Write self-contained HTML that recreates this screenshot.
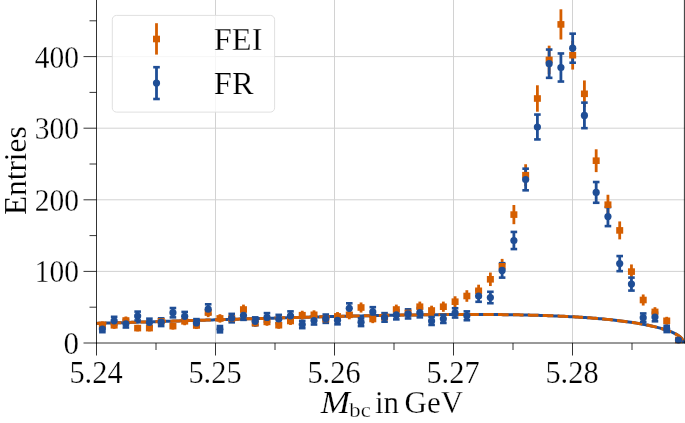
<!DOCTYPE html>
<html><head><meta charset="utf-8"><style>
html,body{margin:0;padding:0;background:#fff;}
body{width:685px;height:423px;overflow:hidden;font-family:"Liberation Serif",serif;}
svg{display:block;will-change:transform;}
</style></head><body>
<svg width="685" height="423" viewBox="0 0 685 423">
<rect width="685" height="423" fill="#fff"/>
<g stroke="#d2d2d2" stroke-width="1"><line x1="215.50" y1="0" x2="215.50" y2="343.0" /><line x1="334.50" y1="0" x2="334.50" y2="343.0" /><line x1="453.50" y1="0" x2="453.50" y2="343.0" /><line x1="572.50" y1="0" x2="572.50" y2="343.0" /><line x1="96.5" y1="271.40" x2="685" y2="271.40" /><line x1="96.5" y1="199.80" x2="685" y2="199.80" /><line x1="96.5" y1="128.20" x2="685" y2="128.20" /><line x1="96.5" y1="56.60" x2="685" y2="56.60" /></g>
<polyline points="96.50,323.38 98.46,323.32 100.43,323.26 102.39,323.21 104.36,323.15 106.32,323.09 108.29,323.03 110.25,322.97 112.21,322.92 114.18,322.86 116.14,322.80 118.11,322.74 120.07,322.68 122.03,322.63 124.00,322.57 125.96,322.51 127.93,322.45 129.89,322.39 131.86,322.33 133.82,322.27 135.78,322.22 137.75,322.16 139.71,322.10 141.68,322.04 143.64,321.98 145.61,321.92 147.57,321.86 149.53,321.80 151.50,321.74 153.46,321.69 155.43,321.63 157.39,321.57 159.35,321.51 161.32,321.45 163.28,321.39 165.25,321.33 167.21,321.27 169.18,321.21 171.14,321.16 173.10,321.10 175.07,321.04 177.03,320.98 179.00,320.92 180.96,320.86 182.93,320.80 184.89,320.74 186.85,320.68 188.82,320.62 190.78,320.57 192.75,320.51 194.71,320.45 196.67,320.39 198.64,320.33 200.60,320.27 202.57,320.21 204.53,320.15 206.50,320.09 208.46,320.04 210.42,319.98 212.39,319.92 214.35,319.86 216.32,319.80 218.28,319.74 220.25,319.68 222.21,319.63 224.17,319.57 226.14,319.51 228.10,319.45 230.07,319.39 232.03,319.34 233.99,319.28 235.96,319.22 237.92,319.16 239.89,319.10 241.85,319.05 243.82,318.99 245.78,318.93 247.74,318.87 249.71,318.82 251.67,318.76 253.64,318.70 255.60,318.65 257.57,318.59 259.53,318.53 261.49,318.48 263.46,318.42 265.42,318.36 267.39,318.31 269.35,318.25 271.32,318.20 273.28,318.14 275.24,318.09 277.21,318.03 279.17,317.98 281.14,317.92 283.10,317.87 285.06,317.81 287.03,317.76 288.99,317.70 290.96,317.65 292.92,317.59 294.89,317.54 296.85,317.49 298.81,317.43 300.78,317.38 302.74,317.33 304.71,317.28 306.67,317.22 308.64,317.17 310.60,317.12 312.56,317.07 314.53,317.02 316.49,316.97 318.46,316.92 320.42,316.87 322.38,316.82 324.35,316.77 326.31,316.72 328.28,316.67 330.24,316.62 332.21,316.57 334.17,316.52 336.13,316.47 338.10,316.42 340.06,316.38 342.03,316.33 343.99,316.28 345.96,316.24 347.92,316.19 349.88,316.15 351.85,316.10 353.81,316.06 355.78,316.01 357.74,315.97 359.70,315.92 361.67,315.88 363.63,315.84 365.60,315.80 367.56,315.75 369.53,315.71 371.49,315.67 373.45,315.63 375.42,315.59 377.38,315.55 379.35,315.51 381.31,315.47 383.28,315.44 385.24,315.40 387.20,315.36 389.17,315.33 391.13,315.29 393.10,315.26 395.06,315.22 397.02,315.19 398.99,315.15 400.95,315.12 402.92,315.09 404.88,315.06 406.85,315.03 408.81,315.00 410.77,314.97 412.74,314.94 414.70,314.91 416.67,314.88 418.63,314.86 420.60,314.83 422.56,314.80 424.52,314.78 426.49,314.76 428.45,314.73 430.42,314.71 432.38,314.69 434.34,314.67 436.31,314.65 438.27,314.63 440.24,314.62 442.20,314.60 444.17,314.58 446.13,314.57 448.09,314.55 450.06,314.54 452.02,314.53 453.99,314.52 455.95,314.51 457.92,314.50 459.88,314.49 461.84,314.49 463.81,314.48 465.77,314.48 467.74,314.47 469.70,314.47 471.66,314.47 473.63,314.47 475.59,314.47 477.56,314.47 479.52,314.48 481.49,314.48 483.45,314.49 485.41,314.50 487.38,314.51 489.34,314.52 491.31,314.53 493.27,314.55 495.24,314.56 497.20,314.58 499.16,314.60 501.13,314.62 503.09,314.64 505.06,314.66 507.02,314.69 508.98,314.71 510.95,314.74 512.91,314.77 514.88,314.80 516.84,314.84 518.81,314.87 520.77,314.91 522.73,314.95 524.70,314.99 526.66,315.04 528.63,315.08 530.59,315.13 532.56,315.18 534.52,315.23 536.48,315.29 538.45,315.35 540.41,315.41 542.38,315.47 544.34,315.53 546.31,315.60 548.27,315.67 550.23,315.74 552.20,315.82 554.16,315.90 556.13,315.98 558.09,316.06 560.05,316.15 562.02,316.24 563.98,316.33 565.95,316.43 567.91,316.53 569.88,316.63 571.84,316.74 573.80,316.85 575.77,316.96 577.73,317.08 579.70,317.20 581.66,317.32 583.63,317.45 585.59,317.59 587.55,317.73 589.52,317.87 591.48,318.02 593.45,318.17 595.41,318.33 597.37,318.49 599.34,318.66 601.30,318.83 603.27,319.01 605.23,319.19 607.20,319.38 609.16,319.58 611.12,319.78 613.09,319.99 615.05,320.21 617.02,320.43 618.98,320.66 620.95,320.90 622.91,321.15 624.87,321.40 626.84,321.66 628.80,321.94 630.77,322.22 632.73,322.52 634.69,322.82 636.66,323.14 638.62,323.46 640.59,323.80 642.55,324.16 644.52,324.53 646.48,324.91 648.44,325.31 650.41,325.73 652.37,326.17 654.34,326.63 656.30,327.11 658.27,327.62 660.23,328.15 662.19,328.72 664.16,329.32 666.12,329.96 668.09,330.65 670.05,331.40 672.01,332.21 673.98,333.11 675.94,334.11 677.91,335.27 679.87,336.67 681.84,338.52 683.80,343.00" fill="none" stroke="#1f4e96" stroke-width="3"/>
<polyline points="96.50,323.38 98.46,323.32 100.43,323.26 102.39,323.21 104.36,323.15 106.32,323.09 108.29,323.03 110.25,322.97 112.21,322.92 114.18,322.86 116.14,322.80 118.11,322.74 120.07,322.68 122.03,322.63 124.00,322.57 125.96,322.51 127.93,322.45 129.89,322.39 131.86,322.33 133.82,322.27 135.78,322.22 137.75,322.16 139.71,322.10 141.68,322.04 143.64,321.98 145.61,321.92 147.57,321.86 149.53,321.80 151.50,321.74 153.46,321.69 155.43,321.63 157.39,321.57 159.35,321.51 161.32,321.45 163.28,321.39 165.25,321.33 167.21,321.27 169.18,321.21 171.14,321.16 173.10,321.10 175.07,321.04 177.03,320.98 179.00,320.92 180.96,320.86 182.93,320.80 184.89,320.74 186.85,320.68 188.82,320.62 190.78,320.57 192.75,320.51 194.71,320.45 196.67,320.39 198.64,320.33 200.60,320.27 202.57,320.21 204.53,320.15 206.50,320.09 208.46,320.04 210.42,319.98 212.39,319.92 214.35,319.86 216.32,319.80 218.28,319.74 220.25,319.68 222.21,319.63 224.17,319.57 226.14,319.51 228.10,319.45 230.07,319.39 232.03,319.34 233.99,319.28 235.96,319.22 237.92,319.16 239.89,319.10 241.85,319.05 243.82,318.99 245.78,318.93 247.74,318.87 249.71,318.82 251.67,318.76 253.64,318.70 255.60,318.65 257.57,318.59 259.53,318.53 261.49,318.48 263.46,318.42 265.42,318.36 267.39,318.31 269.35,318.25 271.32,318.20 273.28,318.14 275.24,318.09 277.21,318.03 279.17,317.98 281.14,317.92 283.10,317.87 285.06,317.81 287.03,317.76 288.99,317.70 290.96,317.65 292.92,317.59 294.89,317.54 296.85,317.49 298.81,317.43 300.78,317.38 302.74,317.33 304.71,317.28 306.67,317.22 308.64,317.17 310.60,317.12 312.56,317.07 314.53,317.02 316.49,316.97 318.46,316.92 320.42,316.87 322.38,316.82 324.35,316.77 326.31,316.72 328.28,316.67 330.24,316.62 332.21,316.57 334.17,316.52 336.13,316.47 338.10,316.42 340.06,316.38 342.03,316.33 343.99,316.28 345.96,316.24 347.92,316.19 349.88,316.15 351.85,316.10 353.81,316.06 355.78,316.01 357.74,315.97 359.70,315.92 361.67,315.88 363.63,315.84 365.60,315.80 367.56,315.75 369.53,315.71 371.49,315.67 373.45,315.63 375.42,315.59 377.38,315.55 379.35,315.51 381.31,315.47 383.28,315.44 385.24,315.40 387.20,315.36 389.17,315.33 391.13,315.29 393.10,315.26 395.06,315.22 397.02,315.19 398.99,315.15 400.95,315.12 402.92,315.09 404.88,315.06 406.85,315.03 408.81,315.00 410.77,314.97 412.74,314.94 414.70,314.91 416.67,314.88 418.63,314.86 420.60,314.83 422.56,314.80 424.52,314.78 426.49,314.76 428.45,314.73 430.42,314.71 432.38,314.69 434.34,314.67 436.31,314.65 438.27,314.63 440.24,314.62 442.20,314.60 444.17,314.58 446.13,314.57 448.09,314.55 450.06,314.54 452.02,314.53 453.99,314.52 455.95,314.51 457.92,314.50 459.88,314.49 461.84,314.49 463.81,314.48 465.77,314.48 467.74,314.47 469.70,314.47 471.66,314.47 473.63,314.47 475.59,314.47 477.56,314.47 479.52,314.48 481.49,314.48 483.45,314.49 485.41,314.50 487.38,314.51 489.34,314.52 491.31,314.53 493.27,314.55 495.24,314.56 497.20,314.58 499.16,314.60 501.13,314.62 503.09,314.64 505.06,314.66 507.02,314.69 508.98,314.71 510.95,314.74 512.91,314.77 514.88,314.80 516.84,314.84 518.81,314.87 520.77,314.91 522.73,314.95 524.70,314.99 526.66,315.04 528.63,315.08 530.59,315.13 532.56,315.18 534.52,315.23 536.48,315.29 538.45,315.35 540.41,315.41 542.38,315.47 544.34,315.53 546.31,315.60 548.27,315.67 550.23,315.74 552.20,315.82 554.16,315.90 556.13,315.98 558.09,316.06 560.05,316.15 562.02,316.24 563.98,316.33 565.95,316.43 567.91,316.53 569.88,316.63 571.84,316.74 573.80,316.85 575.77,316.96 577.73,317.08 579.70,317.20 581.66,317.32 583.63,317.45 585.59,317.59 587.55,317.73 589.52,317.87 591.48,318.02 593.45,318.17 595.41,318.33 597.37,318.49 599.34,318.66 601.30,318.83 603.27,319.01 605.23,319.19 607.20,319.38 609.16,319.58 611.12,319.78 613.09,319.99 615.05,320.21 617.02,320.43 618.98,320.66 620.95,320.90 622.91,321.15 624.87,321.40 626.84,321.66 628.80,321.94 630.77,322.22 632.73,322.52 634.69,322.82 636.66,323.14 638.62,323.46 640.59,323.80 642.55,324.16 644.52,324.53 646.48,324.91 648.44,325.31 650.41,325.73 652.37,326.17 654.34,326.63 656.30,327.11 658.27,327.62 660.23,328.15 662.19,328.72 664.16,329.32 666.12,329.96 668.09,330.65 670.05,331.40 672.01,332.21 673.98,333.11 675.94,334.11 677.91,335.27 679.87,336.67 681.84,338.52 683.80,343.00" fill="none" stroke="#d55e00" stroke-width="3" stroke-dasharray="10.6 4.3" stroke-dashoffset="0.65"/>
<g><line x1="102.38" y1="321.41" x2="102.38" y2="328.59" stroke="#d55e00" stroke-width="2.8"/><line x1="114.14" y1="321.74" x2="114.14" y2="328.86" stroke="#d55e00" stroke-width="2.8"/><line x1="125.89" y1="316.49" x2="125.89" y2="324.51" stroke="#d55e00" stroke-width="2.8"/><line x1="137.65" y1="324.83" x2="137.65" y2="331.37" stroke="#d55e00" stroke-width="2.8"/><line x1="149.41" y1="324.83" x2="149.41" y2="331.37" stroke="#d55e00" stroke-width="2.8"/><line x1="161.16" y1="317.36" x2="161.16" y2="325.24" stroke="#d55e00" stroke-width="2.8"/><line x1="172.92" y1="322.62" x2="172.92" y2="329.58" stroke="#d55e00" stroke-width="2.8"/><line x1="184.68" y1="317.36" x2="184.68" y2="325.24" stroke="#d55e00" stroke-width="2.8"/><line x1="196.44" y1="321.96" x2="196.44" y2="329.04" stroke="#d55e00" stroke-width="2.8"/><line x1="208.19" y1="307.83" x2="208.19" y2="317.17" stroke="#d55e00" stroke-width="2.8"/><line x1="219.95" y1="314.20" x2="219.95" y2="322.60" stroke="#d55e00" stroke-width="2.8"/><line x1="231.71" y1="314.20" x2="231.71" y2="322.60" stroke="#d55e00" stroke-width="2.8"/><line x1="243.47" y1="304.60" x2="243.47" y2="314.40" stroke="#d55e00" stroke-width="2.8"/><line x1="255.22" y1="319.33" x2="255.22" y2="326.87" stroke="#d55e00" stroke-width="2.8"/><line x1="266.98" y1="318.01" x2="266.98" y2="325.79" stroke="#d55e00" stroke-width="2.8"/><line x1="278.74" y1="321.63" x2="278.74" y2="328.77" stroke="#d55e00" stroke-width="2.8"/><line x1="290.49" y1="317.03" x2="290.49" y2="324.97" stroke="#d55e00" stroke-width="2.8"/><line x1="302.25" y1="310.74" x2="302.25" y2="319.66" stroke="#d55e00" stroke-width="2.8"/><line x1="314.01" y1="310.31" x2="314.01" y2="319.29" stroke="#d55e00" stroke-width="2.8"/><line x1="325.77" y1="314.85" x2="325.77" y2="323.15" stroke="#d55e00" stroke-width="2.8"/><line x1="337.52" y1="312.04" x2="337.52" y2="320.76" stroke="#d55e00" stroke-width="2.8"/><line x1="349.28" y1="310.31" x2="349.28" y2="319.29" stroke="#d55e00" stroke-width="2.8"/><line x1="361.04" y1="302.46" x2="361.04" y2="312.54" stroke="#d55e00" stroke-width="2.8"/><line x1="372.79" y1="314.85" x2="372.79" y2="323.15" stroke="#d55e00" stroke-width="2.8"/><line x1="384.55" y1="312.90" x2="384.55" y2="321.50" stroke="#d55e00" stroke-width="2.8"/><line x1="396.31" y1="304.60" x2="396.31" y2="314.40" stroke="#d55e00" stroke-width="2.8"/><line x1="408.07" y1="308.37" x2="408.07" y2="317.63" stroke="#d55e00" stroke-width="2.8"/><line x1="419.82" y1="301.60" x2="419.82" y2="311.80" stroke="#d55e00" stroke-width="2.8"/><line x1="431.58" y1="305.68" x2="431.58" y2="315.32" stroke="#d55e00" stroke-width="2.8"/><line x1="443.34" y1="301.60" x2="443.34" y2="311.80" stroke="#d55e00" stroke-width="2.8"/><line x1="455.09" y1="296.26" x2="455.09" y2="307.14" stroke="#d55e00" stroke-width="2.8"/><line x1="466.85" y1="290.20" x2="466.85" y2="301.80" stroke="#d55e00" stroke-width="2.8"/><line x1="478.61" y1="284.69" x2="478.61" y2="296.91" stroke="#d55e00" stroke-width="2.8"/><line x1="490.37" y1="272.55" x2="490.37" y2="286.05" stroke="#d55e00" stroke-width="2.8"/><line x1="502.12" y1="258.89" x2="502.12" y2="273.71" stroke="#d55e00" stroke-width="2.8"/><line x1="513.88" y1="205.01" x2="513.88" y2="224.19" stroke="#d55e00" stroke-width="2.8"/><line x1="525.64" y1="164.24" x2="525.64" y2="186.16" stroke="#d55e00" stroke-width="2.8"/><line x1="537.39" y1="85.27" x2="537.39" y2="111.73" stroke="#d55e00" stroke-width="2.8"/><line x1="549.15" y1="45.66" x2="549.15" y2="74.14" stroke="#d55e00" stroke-width="2.8"/><line x1="560.91" y1="9.30" x2="560.91" y2="39.50" stroke="#d55e00" stroke-width="2.8"/><line x1="572.67" y1="40.85" x2="572.67" y2="69.55" stroke="#d55e00" stroke-width="2.8"/><line x1="584.42" y1="80.44" x2="584.42" y2="107.16" stroke="#d55e00" stroke-width="2.8"/><line x1="596.18" y1="149.28" x2="596.18" y2="172.12" stroke="#d55e00" stroke-width="2.8"/><line x1="607.94" y1="194.75" x2="607.94" y2="214.65" stroke="#d55e00" stroke-width="2.8"/><line x1="619.70" y1="221.42" x2="619.70" y2="239.38" stroke="#d55e00" stroke-width="2.8"/><line x1="631.45" y1="264.45" x2="631.45" y2="278.75" stroke="#d55e00" stroke-width="2.8"/><line x1="643.21" y1="294.45" x2="643.21" y2="305.55" stroke="#d55e00" stroke-width="2.8"/><line x1="654.97" y1="307.18" x2="654.97" y2="316.62" stroke="#d55e00" stroke-width="2.8"/><line x1="666.72" y1="316.81" x2="666.72" y2="324.79" stroke="#d55e00" stroke-width="2.8"/><line x1="678.48" y1="338.53" x2="678.48" y2="341.47" stroke="#d55e00" stroke-width="2.8"/></g>
<g><line x1="102.38" y1="325.83" x2="102.38" y2="332.17" stroke="#1f4e96" stroke-width="2.8"/><line x1="99.08" y1="325.83" x2="105.68" y2="325.83" stroke="#1f4e96" stroke-width="2.6"/><line x1="99.08" y1="332.17" x2="105.68" y2="332.17" stroke="#1f4e96" stroke-width="2.6"/><line x1="114.14" y1="316.81" x2="114.14" y2="324.79" stroke="#1f4e96" stroke-width="2.8"/><line x1="110.84" y1="316.81" x2="117.44" y2="316.81" stroke="#1f4e96" stroke-width="2.6"/><line x1="110.84" y1="324.79" x2="117.44" y2="324.79" stroke="#1f4e96" stroke-width="2.6"/><line x1="125.89" y1="320.09" x2="125.89" y2="327.51" stroke="#1f4e96" stroke-width="2.8"/><line x1="122.59" y1="320.09" x2="129.19" y2="320.09" stroke="#1f4e96" stroke-width="2.6"/><line x1="122.59" y1="327.51" x2="129.19" y2="327.51" stroke="#1f4e96" stroke-width="2.6"/><line x1="137.65" y1="311.60" x2="137.65" y2="320.40" stroke="#1f4e96" stroke-width="2.8"/><line x1="134.35" y1="311.60" x2="140.95" y2="311.60" stroke="#1f4e96" stroke-width="2.6"/><line x1="134.35" y1="320.40" x2="140.95" y2="320.40" stroke="#1f4e96" stroke-width="2.6"/><line x1="149.41" y1="318.67" x2="149.41" y2="326.33" stroke="#1f4e96" stroke-width="2.8"/><line x1="146.11" y1="318.67" x2="152.71" y2="318.67" stroke="#1f4e96" stroke-width="2.6"/><line x1="146.11" y1="326.33" x2="152.71" y2="326.33" stroke="#1f4e96" stroke-width="2.6"/><line x1="161.16" y1="318.34" x2="161.16" y2="326.06" stroke="#1f4e96" stroke-width="2.8"/><line x1="157.86" y1="318.34" x2="164.46" y2="318.34" stroke="#1f4e96" stroke-width="2.6"/><line x1="157.86" y1="326.06" x2="164.46" y2="326.06" stroke="#1f4e96" stroke-width="2.6"/><line x1="172.92" y1="308.04" x2="172.92" y2="317.36" stroke="#1f4e96" stroke-width="2.8"/><line x1="169.62" y1="308.04" x2="176.22" y2="308.04" stroke="#1f4e96" stroke-width="2.6"/><line x1="169.62" y1="317.36" x2="176.22" y2="317.36" stroke="#1f4e96" stroke-width="2.6"/><line x1="184.68" y1="311.93" x2="184.68" y2="320.67" stroke="#1f4e96" stroke-width="2.8"/><line x1="181.38" y1="311.93" x2="187.98" y2="311.93" stroke="#1f4e96" stroke-width="2.6"/><line x1="181.38" y1="320.67" x2="187.98" y2="320.67" stroke="#1f4e96" stroke-width="2.6"/><line x1="196.44" y1="319.11" x2="196.44" y2="326.69" stroke="#1f4e96" stroke-width="2.8"/><line x1="193.14" y1="319.11" x2="199.74" y2="319.11" stroke="#1f4e96" stroke-width="2.6"/><line x1="193.14" y1="326.69" x2="199.74" y2="326.69" stroke="#1f4e96" stroke-width="2.6"/><line x1="208.19" y1="304.28" x2="208.19" y2="314.12" stroke="#1f4e96" stroke-width="2.8"/><line x1="204.89" y1="304.28" x2="211.49" y2="304.28" stroke="#1f4e96" stroke-width="2.6"/><line x1="204.89" y1="314.12" x2="211.49" y2="314.12" stroke="#1f4e96" stroke-width="2.6"/><line x1="219.95" y1="326.06" x2="219.95" y2="332.34" stroke="#1f4e96" stroke-width="2.8"/><line x1="216.65" y1="326.06" x2="223.25" y2="326.06" stroke="#1f4e96" stroke-width="2.6"/><line x1="216.65" y1="332.34" x2="223.25" y2="332.34" stroke="#1f4e96" stroke-width="2.6"/><line x1="231.71" y1="313.88" x2="231.71" y2="322.32" stroke="#1f4e96" stroke-width="2.8"/><line x1="228.41" y1="313.88" x2="235.01" y2="313.88" stroke="#1f4e96" stroke-width="2.6"/><line x1="228.41" y1="322.32" x2="235.01" y2="322.32" stroke="#1f4e96" stroke-width="2.6"/><line x1="243.47" y1="310.95" x2="243.47" y2="319.85" stroke="#1f4e96" stroke-width="2.8"/><line x1="240.16" y1="310.95" x2="246.77" y2="310.95" stroke="#1f4e96" stroke-width="2.6"/><line x1="240.16" y1="319.85" x2="246.77" y2="319.85" stroke="#1f4e96" stroke-width="2.6"/><line x1="255.22" y1="317.36" x2="255.22" y2="325.24" stroke="#1f4e96" stroke-width="2.8"/><line x1="251.92" y1="317.36" x2="258.52" y2="317.36" stroke="#1f4e96" stroke-width="2.6"/><line x1="251.92" y1="325.24" x2="258.52" y2="325.24" stroke="#1f4e96" stroke-width="2.6"/><line x1="266.98" y1="313.12" x2="266.98" y2="321.68" stroke="#1f4e96" stroke-width="2.8"/><line x1="263.68" y1="313.12" x2="270.28" y2="313.12" stroke="#1f4e96" stroke-width="2.6"/><line x1="263.68" y1="321.68" x2="270.28" y2="321.68" stroke="#1f4e96" stroke-width="2.6"/><line x1="278.74" y1="314.85" x2="278.74" y2="323.15" stroke="#1f4e96" stroke-width="2.8"/><line x1="275.44" y1="314.85" x2="282.04" y2="314.85" stroke="#1f4e96" stroke-width="2.6"/><line x1="275.44" y1="323.15" x2="282.04" y2="323.15" stroke="#1f4e96" stroke-width="2.6"/><line x1="290.49" y1="311.39" x2="290.49" y2="320.21" stroke="#1f4e96" stroke-width="2.8"/><line x1="287.19" y1="311.39" x2="293.79" y2="311.39" stroke="#1f4e96" stroke-width="2.6"/><line x1="287.19" y1="320.21" x2="293.79" y2="320.21" stroke="#1f4e96" stroke-width="2.6"/><line x1="302.25" y1="320.86" x2="302.25" y2="328.14" stroke="#1f4e96" stroke-width="2.8"/><line x1="298.95" y1="320.86" x2="305.55" y2="320.86" stroke="#1f4e96" stroke-width="2.6"/><line x1="298.95" y1="328.14" x2="305.55" y2="328.14" stroke="#1f4e96" stroke-width="2.6"/><line x1="314.01" y1="316.49" x2="314.01" y2="324.51" stroke="#1f4e96" stroke-width="2.8"/><line x1="310.71" y1="316.49" x2="317.31" y2="316.49" stroke="#1f4e96" stroke-width="2.6"/><line x1="310.71" y1="324.51" x2="317.31" y2="324.51" stroke="#1f4e96" stroke-width="2.6"/><line x1="325.77" y1="314.53" x2="325.77" y2="322.87" stroke="#1f4e96" stroke-width="2.8"/><line x1="322.47" y1="314.53" x2="329.07" y2="314.53" stroke="#1f4e96" stroke-width="2.6"/><line x1="322.47" y1="322.87" x2="329.07" y2="322.87" stroke="#1f4e96" stroke-width="2.6"/><line x1="337.52" y1="316.27" x2="337.52" y2="324.33" stroke="#1f4e96" stroke-width="2.8"/><line x1="334.22" y1="316.27" x2="340.82" y2="316.27" stroke="#1f4e96" stroke-width="2.6"/><line x1="334.22" y1="324.33" x2="340.82" y2="324.33" stroke="#1f4e96" stroke-width="2.6"/><line x1="349.28" y1="303.32" x2="349.28" y2="313.28" stroke="#1f4e96" stroke-width="2.8"/><line x1="345.98" y1="303.32" x2="352.58" y2="303.32" stroke="#1f4e96" stroke-width="2.6"/><line x1="345.98" y1="313.28" x2="352.58" y2="313.28" stroke="#1f4e96" stroke-width="2.6"/><line x1="361.04" y1="318.34" x2="361.04" y2="326.06" stroke="#1f4e96" stroke-width="2.8"/><line x1="357.74" y1="318.34" x2="364.34" y2="318.34" stroke="#1f4e96" stroke-width="2.6"/><line x1="357.74" y1="326.06" x2="364.34" y2="326.06" stroke="#1f4e96" stroke-width="2.6"/><line x1="372.79" y1="307.18" x2="372.79" y2="316.62" stroke="#1f4e96" stroke-width="2.8"/><line x1="369.49" y1="307.18" x2="376.09" y2="307.18" stroke="#1f4e96" stroke-width="2.6"/><line x1="369.49" y1="316.62" x2="376.09" y2="316.62" stroke="#1f4e96" stroke-width="2.6"/><line x1="384.55" y1="313.12" x2="384.55" y2="321.68" stroke="#1f4e96" stroke-width="2.8"/><line x1="381.25" y1="313.12" x2="387.85" y2="313.12" stroke="#1f4e96" stroke-width="2.6"/><line x1="381.25" y1="321.68" x2="387.85" y2="321.68" stroke="#1f4e96" stroke-width="2.6"/><line x1="396.31" y1="310.41" x2="396.31" y2="319.39" stroke="#1f4e96" stroke-width="2.8"/><line x1="393.01" y1="310.41" x2="399.61" y2="310.41" stroke="#1f4e96" stroke-width="2.6"/><line x1="393.01" y1="319.39" x2="399.61" y2="319.39" stroke="#1f4e96" stroke-width="2.6"/><line x1="408.07" y1="309.34" x2="408.07" y2="318.46" stroke="#1f4e96" stroke-width="2.8"/><line x1="404.77" y1="309.34" x2="411.37" y2="309.34" stroke="#1f4e96" stroke-width="2.6"/><line x1="404.77" y1="318.46" x2="411.37" y2="318.46" stroke="#1f4e96" stroke-width="2.6"/><line x1="419.82" y1="308.04" x2="419.82" y2="317.36" stroke="#1f4e96" stroke-width="2.8"/><line x1="416.52" y1="308.04" x2="423.12" y2="308.04" stroke="#1f4e96" stroke-width="2.6"/><line x1="416.52" y1="317.36" x2="423.12" y2="317.36" stroke="#1f4e96" stroke-width="2.6"/><line x1="431.58" y1="317.03" x2="431.58" y2="324.97" stroke="#1f4e96" stroke-width="2.8"/><line x1="428.28" y1="317.03" x2="434.88" y2="317.03" stroke="#1f4e96" stroke-width="2.6"/><line x1="428.28" y1="324.97" x2="434.88" y2="324.97" stroke="#1f4e96" stroke-width="2.6"/><line x1="443.34" y1="314.64" x2="443.34" y2="322.96" stroke="#1f4e96" stroke-width="2.8"/><line x1="440.04" y1="314.64" x2="446.64" y2="314.64" stroke="#1f4e96" stroke-width="2.6"/><line x1="440.04" y1="322.96" x2="446.64" y2="322.96" stroke="#1f4e96" stroke-width="2.6"/><line x1="455.09" y1="308.26" x2="455.09" y2="317.54" stroke="#1f4e96" stroke-width="2.8"/><line x1="451.79" y1="308.26" x2="458.39" y2="308.26" stroke="#1f4e96" stroke-width="2.6"/><line x1="451.79" y1="317.54" x2="458.39" y2="317.54" stroke="#1f4e96" stroke-width="2.6"/><line x1="466.85" y1="311.39" x2="466.85" y2="320.21" stroke="#1f4e96" stroke-width="2.8"/><line x1="463.55" y1="311.39" x2="470.15" y2="311.39" stroke="#1f4e96" stroke-width="2.6"/><line x1="463.55" y1="320.21" x2="470.15" y2="320.21" stroke="#1f4e96" stroke-width="2.6"/><line x1="478.61" y1="290.20" x2="478.61" y2="301.80" stroke="#1f4e96" stroke-width="2.8"/><line x1="475.31" y1="290.20" x2="481.91" y2="290.20" stroke="#1f4e96" stroke-width="2.6"/><line x1="475.31" y1="301.80" x2="481.91" y2="301.80" stroke="#1f4e96" stroke-width="2.6"/><line x1="490.37" y1="291.79" x2="490.37" y2="303.21" stroke="#1f4e96" stroke-width="2.8"/><line x1="487.07" y1="291.79" x2="493.67" y2="291.79" stroke="#1f4e96" stroke-width="2.6"/><line x1="487.07" y1="303.21" x2="493.67" y2="303.21" stroke="#1f4e96" stroke-width="2.6"/><line x1="502.12" y1="263.19" x2="502.12" y2="277.61" stroke="#1f4e96" stroke-width="2.8"/><line x1="498.82" y1="263.19" x2="505.42" y2="263.19" stroke="#1f4e96" stroke-width="2.6"/><line x1="498.82" y1="277.61" x2="505.42" y2="277.61" stroke="#1f4e96" stroke-width="2.6"/><line x1="513.88" y1="231.93" x2="513.88" y2="249.07" stroke="#1f4e96" stroke-width="2.8"/><line x1="510.58" y1="231.93" x2="517.18" y2="231.93" stroke="#1f4e96" stroke-width="2.6"/><line x1="510.58" y1="249.07" x2="517.18" y2="249.07" stroke="#1f4e96" stroke-width="2.6"/><line x1="525.64" y1="168.68" x2="525.64" y2="190.32" stroke="#1f4e96" stroke-width="2.8"/><line x1="522.34" y1="168.68" x2="528.94" y2="168.68" stroke="#1f4e96" stroke-width="2.6"/><line x1="522.34" y1="190.32" x2="528.94" y2="190.32" stroke="#1f4e96" stroke-width="2.6"/><line x1="537.39" y1="114.56" x2="537.39" y2="139.44" stroke="#1f4e96" stroke-width="2.8"/><line x1="534.10" y1="114.56" x2="540.69" y2="114.56" stroke="#1f4e96" stroke-width="2.6"/><line x1="534.10" y1="139.44" x2="540.69" y2="139.44" stroke="#1f4e96" stroke-width="2.6"/><line x1="549.15" y1="49.56" x2="549.15" y2="77.84" stroke="#1f4e96" stroke-width="2.8"/><line x1="545.85" y1="49.56" x2="552.45" y2="49.56" stroke="#1f4e96" stroke-width="2.6"/><line x1="545.85" y1="77.84" x2="552.45" y2="77.84" stroke="#1f4e96" stroke-width="2.6"/><line x1="560.91" y1="53.46" x2="560.91" y2="81.54" stroke="#1f4e96" stroke-width="2.8"/><line x1="557.61" y1="53.46" x2="564.21" y2="53.46" stroke="#1f4e96" stroke-width="2.6"/><line x1="557.61" y1="81.54" x2="564.21" y2="81.54" stroke="#1f4e96" stroke-width="2.6"/><line x1="572.67" y1="33.67" x2="572.67" y2="62.73" stroke="#1f4e96" stroke-width="2.8"/><line x1="569.37" y1="33.67" x2="575.97" y2="33.67" stroke="#1f4e96" stroke-width="2.6"/><line x1="569.37" y1="62.73" x2="575.97" y2="62.73" stroke="#1f4e96" stroke-width="2.6"/><line x1="584.42" y1="102.63" x2="584.42" y2="128.17" stroke="#1f4e96" stroke-width="2.8"/><line x1="581.12" y1="102.63" x2="587.72" y2="102.63" stroke="#1f4e96" stroke-width="2.6"/><line x1="581.12" y1="128.17" x2="587.72" y2="128.17" stroke="#1f4e96" stroke-width="2.6"/><line x1="596.18" y1="182.02" x2="596.18" y2="202.78" stroke="#1f4e96" stroke-width="2.8"/><line x1="592.88" y1="182.02" x2="599.48" y2="182.02" stroke="#1f4e96" stroke-width="2.6"/><line x1="592.88" y1="202.78" x2="599.48" y2="202.78" stroke="#1f4e96" stroke-width="2.6"/><line x1="607.94" y1="207.09" x2="607.94" y2="226.11" stroke="#1f4e96" stroke-width="2.8"/><line x1="604.64" y1="207.09" x2="611.24" y2="207.09" stroke="#1f4e96" stroke-width="2.6"/><line x1="604.64" y1="226.11" x2="611.24" y2="226.11" stroke="#1f4e96" stroke-width="2.6"/><line x1="619.70" y1="256.06" x2="619.70" y2="271.14" stroke="#1f4e96" stroke-width="2.8"/><line x1="616.40" y1="256.06" x2="623.00" y2="256.06" stroke="#1f4e96" stroke-width="2.6"/><line x1="616.40" y1="271.14" x2="623.00" y2="271.14" stroke="#1f4e96" stroke-width="2.6"/><line x1="631.45" y1="277.61" x2="631.45" y2="290.59" stroke="#1f4e96" stroke-width="2.8"/><line x1="628.15" y1="277.61" x2="634.75" y2="277.61" stroke="#1f4e96" stroke-width="2.6"/><line x1="628.15" y1="290.59" x2="634.75" y2="290.59" stroke="#1f4e96" stroke-width="2.6"/><line x1="643.21" y1="313.44" x2="643.21" y2="321.96" stroke="#1f4e96" stroke-width="2.8"/><line x1="639.91" y1="313.44" x2="646.51" y2="313.44" stroke="#1f4e96" stroke-width="2.6"/><line x1="639.91" y1="321.96" x2="646.51" y2="321.96" stroke="#1f4e96" stroke-width="2.6"/><line x1="654.97" y1="312.69" x2="654.97" y2="321.31" stroke="#1f4e96" stroke-width="2.8"/><line x1="651.67" y1="312.69" x2="658.27" y2="312.69" stroke="#1f4e96" stroke-width="2.6"/><line x1="651.67" y1="321.31" x2="658.27" y2="321.31" stroke="#1f4e96" stroke-width="2.6"/><line x1="666.72" y1="325.72" x2="666.72" y2="332.08" stroke="#1f4e96" stroke-width="2.8"/><line x1="663.42" y1="325.72" x2="670.02" y2="325.72" stroke="#1f4e96" stroke-width="2.6"/><line x1="663.42" y1="332.08" x2="670.02" y2="332.08" stroke="#1f4e96" stroke-width="2.6"/><line x1="678.48" y1="338.53" x2="678.48" y2="341.47" stroke="#1f4e96" stroke-width="2.8"/><line x1="675.18" y1="338.53" x2="681.78" y2="338.53" stroke="#1f4e96" stroke-width="2.6"/><line x1="675.18" y1="341.47" x2="681.78" y2="341.47" stroke="#1f4e96" stroke-width="2.6"/></g>
<g><rect x="98.88" y="321.70" width="7" height="6.6" fill="#d55e00"/><rect x="110.64" y="322.00" width="7" height="6.6" fill="#d55e00"/><rect x="122.39" y="317.20" width="7" height="6.6" fill="#d55e00"/><rect x="134.15" y="324.80" width="7" height="6.6" fill="#d55e00"/><rect x="145.91" y="324.80" width="7" height="6.6" fill="#d55e00"/><rect x="157.66" y="318.00" width="7" height="6.6" fill="#d55e00"/><rect x="169.42" y="322.80" width="7" height="6.6" fill="#d55e00"/><rect x="181.18" y="318.00" width="7" height="6.6" fill="#d55e00"/><rect x="192.94" y="322.20" width="7" height="6.6" fill="#d55e00"/><rect x="204.69" y="309.20" width="7" height="6.6" fill="#d55e00"/><rect x="216.45" y="315.10" width="7" height="6.6" fill="#d55e00"/><rect x="228.21" y="315.10" width="7" height="6.6" fill="#d55e00"/><rect x="239.97" y="306.20" width="7" height="6.6" fill="#d55e00"/><rect x="251.72" y="319.80" width="7" height="6.6" fill="#d55e00"/><rect x="263.48" y="318.60" width="7" height="6.6" fill="#d55e00"/><rect x="275.24" y="321.90" width="7" height="6.6" fill="#d55e00"/><rect x="286.99" y="317.70" width="7" height="6.6" fill="#d55e00"/><rect x="298.75" y="311.90" width="7" height="6.6" fill="#d55e00"/><rect x="310.51" y="311.50" width="7" height="6.6" fill="#d55e00"/><rect x="322.27" y="315.70" width="7" height="6.6" fill="#d55e00"/><rect x="334.02" y="313.10" width="7" height="6.6" fill="#d55e00"/><rect x="345.78" y="311.50" width="7" height="6.6" fill="#d55e00"/><rect x="357.54" y="304.20" width="7" height="6.6" fill="#d55e00"/><rect x="369.29" y="315.70" width="7" height="6.6" fill="#d55e00"/><rect x="381.05" y="313.90" width="7" height="6.6" fill="#d55e00"/><rect x="392.81" y="306.20" width="7" height="6.6" fill="#d55e00"/><rect x="404.57" y="309.70" width="7" height="6.6" fill="#d55e00"/><rect x="416.32" y="303.40" width="7" height="6.6" fill="#d55e00"/><rect x="428.08" y="307.20" width="7" height="6.6" fill="#d55e00"/><rect x="439.84" y="303.40" width="7" height="6.6" fill="#d55e00"/><rect x="451.59" y="298.40" width="7" height="6.6" fill="#d55e00"/><rect x="463.35" y="292.70" width="7" height="6.6" fill="#d55e00"/><rect x="475.11" y="287.50" width="7" height="6.6" fill="#d55e00"/><rect x="486.87" y="276.00" width="7" height="6.6" fill="#d55e00"/><rect x="498.62" y="263.00" width="7" height="6.6" fill="#d55e00"/><rect x="510.38" y="211.30" width="7" height="6.6" fill="#d55e00"/><rect x="522.14" y="171.90" width="7" height="6.6" fill="#d55e00"/><rect x="533.89" y="95.20" width="7" height="6.6" fill="#d55e00"/><rect x="545.65" y="56.60" width="7" height="6.6" fill="#d55e00"/><rect x="557.41" y="21.10" width="7" height="6.6" fill="#d55e00"/><rect x="569.17" y="51.90" width="7" height="6.6" fill="#d55e00"/><rect x="580.92" y="90.50" width="7" height="6.6" fill="#d55e00"/><rect x="592.68" y="157.40" width="7" height="6.6" fill="#d55e00"/><rect x="604.44" y="201.40" width="7" height="6.6" fill="#d55e00"/><rect x="616.20" y="227.10" width="7" height="6.6" fill="#d55e00"/><rect x="627.95" y="268.30" width="7" height="6.6" fill="#d55e00"/><rect x="639.71" y="296.70" width="7" height="6.6" fill="#d55e00"/><rect x="651.47" y="308.60" width="7" height="6.6" fill="#d55e00"/><rect x="663.22" y="317.50" width="7" height="6.6" fill="#d55e00"/><rect x="674.98" y="336.70" width="7" height="6.6" fill="#d55e00"/></g>
<g><circle cx="102.38" cy="329.00" r="3.6" fill="#1f4e96"/><circle cx="114.14" cy="320.80" r="3.6" fill="#1f4e96"/><circle cx="125.89" cy="323.80" r="3.6" fill="#1f4e96"/><circle cx="137.65" cy="316.00" r="3.6" fill="#1f4e96"/><circle cx="149.41" cy="322.50" r="3.6" fill="#1f4e96"/><circle cx="161.16" cy="322.20" r="3.6" fill="#1f4e96"/><circle cx="172.92" cy="312.70" r="3.6" fill="#1f4e96"/><circle cx="184.68" cy="316.30" r="3.6" fill="#1f4e96"/><circle cx="196.44" cy="322.90" r="3.6" fill="#1f4e96"/><circle cx="208.19" cy="309.20" r="3.6" fill="#1f4e96"/><circle cx="219.95" cy="329.20" r="3.6" fill="#1f4e96"/><circle cx="231.71" cy="318.10" r="3.6" fill="#1f4e96"/><circle cx="243.47" cy="315.40" r="3.6" fill="#1f4e96"/><circle cx="255.22" cy="321.30" r="3.6" fill="#1f4e96"/><circle cx="266.98" cy="317.40" r="3.6" fill="#1f4e96"/><circle cx="278.74" cy="319.00" r="3.6" fill="#1f4e96"/><circle cx="290.49" cy="315.80" r="3.6" fill="#1f4e96"/><circle cx="302.25" cy="324.50" r="3.6" fill="#1f4e96"/><circle cx="314.01" cy="320.50" r="3.6" fill="#1f4e96"/><circle cx="325.77" cy="318.70" r="3.6" fill="#1f4e96"/><circle cx="337.52" cy="320.30" r="3.6" fill="#1f4e96"/><circle cx="349.28" cy="308.30" r="3.6" fill="#1f4e96"/><circle cx="361.04" cy="322.20" r="3.6" fill="#1f4e96"/><circle cx="372.79" cy="311.90" r="3.6" fill="#1f4e96"/><circle cx="384.55" cy="317.40" r="3.6" fill="#1f4e96"/><circle cx="396.31" cy="314.90" r="3.6" fill="#1f4e96"/><circle cx="408.07" cy="313.90" r="3.6" fill="#1f4e96"/><circle cx="419.82" cy="312.70" r="3.6" fill="#1f4e96"/><circle cx="431.58" cy="321.00" r="3.6" fill="#1f4e96"/><circle cx="443.34" cy="318.80" r="3.6" fill="#1f4e96"/><circle cx="455.09" cy="312.90" r="3.6" fill="#1f4e96"/><circle cx="466.85" cy="315.80" r="3.6" fill="#1f4e96"/><circle cx="478.61" cy="296.00" r="3.6" fill="#1f4e96"/><circle cx="490.37" cy="297.50" r="3.6" fill="#1f4e96"/><circle cx="502.12" cy="270.40" r="3.6" fill="#1f4e96"/><circle cx="513.88" cy="240.50" r="3.6" fill="#1f4e96"/><circle cx="525.64" cy="179.50" r="3.6" fill="#1f4e96"/><circle cx="537.39" cy="127.00" r="3.6" fill="#1f4e96"/><circle cx="549.15" cy="63.70" r="3.6" fill="#1f4e96"/><circle cx="560.91" cy="67.50" r="3.6" fill="#1f4e96"/><circle cx="572.67" cy="48.20" r="3.6" fill="#1f4e96"/><circle cx="584.42" cy="115.40" r="3.6" fill="#1f4e96"/><circle cx="596.18" cy="192.40" r="3.6" fill="#1f4e96"/><circle cx="607.94" cy="216.60" r="3.6" fill="#1f4e96"/><circle cx="619.70" cy="263.60" r="3.6" fill="#1f4e96"/><circle cx="631.45" cy="284.10" r="3.6" fill="#1f4e96"/><circle cx="643.21" cy="317.70" r="3.6" fill="#1f4e96"/><circle cx="654.97" cy="317.00" r="3.6" fill="#1f4e96"/><circle cx="666.72" cy="328.90" r="3.6" fill="#1f4e96"/><circle cx="678.48" cy="340.00" r="3.6" fill="#1f4e96"/></g>
<g stroke="#000" stroke-width="0.8" fill="none">
<line x1="96.5" y1="0" x2="96.5" y2="343.5"/>
<line x1="96.0" y1="343.0" x2="685" y2="343.0"/>
<line x1="684.4" y1="0" x2="684.4" y2="343.5"/>
<line x1="96.50" y1="343.0" x2="96.50" y2="355.5"/><line x1="215.50" y1="343.0" x2="215.50" y2="355.5"/><line x1="334.50" y1="343.0" x2="334.50" y2="355.5"/><line x1="453.50" y1="343.0" x2="453.50" y2="355.5"/><line x1="572.50" y1="343.0" x2="572.50" y2="355.5"/><line x1="156.00" y1="343.0" x2="156.00" y2="350.0"/><line x1="275.00" y1="343.0" x2="275.00" y2="350.0"/><line x1="394.00" y1="343.0" x2="394.00" y2="350.0"/><line x1="513.00" y1="343.0" x2="513.00" y2="350.0"/><line x1="632.00" y1="343.0" x2="632.00" y2="350.0"/><line x1="83.5" y1="343.00" x2="96.5" y2="343.00"/><line x1="83.5" y1="271.40" x2="96.5" y2="271.40"/><line x1="83.5" y1="199.80" x2="96.5" y2="199.80"/><line x1="83.5" y1="128.20" x2="96.5" y2="128.20"/><line x1="83.5" y1="56.60" x2="96.5" y2="56.60"/><line x1="89.5" y1="307.20" x2="96.5" y2="307.20"/><line x1="89.5" y1="235.60" x2="96.5" y2="235.60"/><line x1="89.5" y1="164.00" x2="96.5" y2="164.00"/><line x1="89.5" y1="92.40" x2="96.5" y2="92.40"/><line x1="89.5" y1="20.80" x2="96.5" y2="20.80"/>
</g>
<rect x="112.3" y="15.4" width="162.3" height="96.7" rx="4.2" ry="4.2" fill="#fff" fill-opacity="0.8" stroke="#e0e0e0" stroke-width="1"/>
<line x1="156.5" y1="23.2" x2="156.5" y2="54.6" stroke="#d55e00" stroke-width="2.8"/>
<rect x="153.0" y="35.7" width="7" height="6.6" fill="#d55e00"/>
<line x1="156.5" y1="67.2" x2="156.5" y2="99" stroke="#1f4e96" stroke-width="2.8"/>
<line x1="153.2" y1="67.2" x2="159.8" y2="67.2" stroke="#1f4e96" stroke-width="2.6"/>
<line x1="153.2" y1="99" x2="159.8" y2="99" stroke="#1f4e96" stroke-width="2.6"/>
<circle cx="156.5" cy="83.1" r="3.6" fill="#1f4e96"/>
<g font-family="Liberation Serif" fill="#000" stroke="#fff" stroke-width="0.25"><text transform="translate(213.8,49.8) scale(1.03,1)" font-size="31.5">FEI</text><text transform="translate(213.8,94.2) scale(1.035,1)" font-size="31.5">FR</text><text transform="translate(78.90,353.70) scale(1.0,1)" font-size="31" text-anchor="end">0</text><text transform="translate(78.90,282.40) scale(0.95,1)" font-size="31" text-anchor="end">100</text><text transform="translate(78.90,210.70) scale(0.95,1)" font-size="31" text-anchor="end">200</text><text transform="translate(78.90,138.50) scale(0.95,1)" font-size="31" text-anchor="end">300</text><text transform="translate(78.90,67.70) scale(0.95,1)" font-size="31" text-anchor="end">400</text><text transform="translate(96.00,382.9) scale(0.98,1)" font-size="31" text-anchor="middle">5.24</text><text transform="translate(215.00,382.9) scale(0.98,1)" font-size="31" text-anchor="middle">5.25</text><text transform="translate(334.00,382.9) scale(0.98,1)" font-size="31" text-anchor="middle">5.26</text><text transform="translate(453.00,382.9) scale(0.98,1)" font-size="31" text-anchor="middle">5.27</text><text transform="translate(572.00,382.9) scale(0.98,1)" font-size="31" text-anchor="middle">5.28</text><text transform="translate(320.5,413) scale(1.15,1)" font-size="31" font-style="italic">M</text><text transform="translate(349.3,416.8) scale(1.08,1)" font-size="21">bc</text><text x="375" y="413" font-size="31">in</text><text x="404.5" y="413" font-size="31">GeV</text><text transform="translate(25.8,170.7) rotate(-90)" font-size="31.3" stroke-width="0.15" text-anchor="middle">Entries</text></g>
</svg>
</body></html>
